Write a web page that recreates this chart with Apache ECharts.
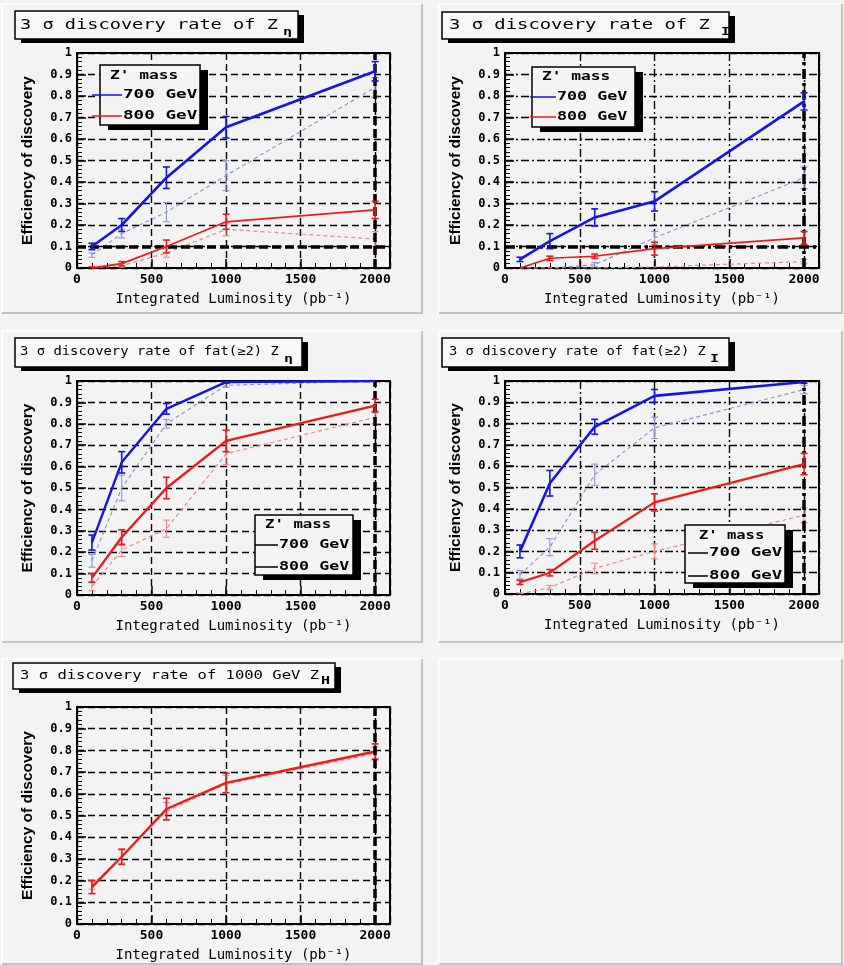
<!DOCTYPE html>
<html><head><meta charset="utf-8">
<script src="https://cdn.jsdelivr.net/npm/echarts@6/dist/echarts.min.js"></script>
<style>html,body{margin:0;padding:0;background:#f3f3f3}#c{width:844px;height:965px}</style>
</head><body><div id="c"></div><script>
// ---------- data ----------
const lumi = [100, 300, 600, 1000, 2000];
const xTickLabels = ['0', '500', '1000', '1500', '2000'];
const xTickValues = [0, 500, 1000, 1500, 2000];
const yTickLabels = ['0', '0.1', '0.2', '0.3', '0.4', '0.5', '0.6', '0.7', '0.8', '0.9', '1'];

// Panel 1: Z_eta
const zEta700 = [0.10, 0.20, 0.42, 0.655, 0.915];
const zEta700Err = [0.015, 0.03, 0.05, 0.05, 0.045];
const zEta700Alt = [0.06, 0.16, 0.26, 0.43, 0.84];
const zEta700AltErr = [0.01, 0.02, 0.045, 0.07, 0.045];
const zEta800 = [0.0, 0.02, 0.10, 0.215, 0.27];
const zEta800Err = [0.005, 0.01, 0.03, 0.035, 0.04];
const zEta800Alt = [0.0, 0.01, 0.07, 0.18, 0.135];
const zEta800AltErr = [0.0, 0.01, 0.02, 0.03, 0.035];

// Panel 2: Z_I
const zI700 = [0.04, 0.125, 0.235, 0.31, 0.775];
const zI700Err = [0.01, 0.035, 0.04, 0.045, 0.04];
const zI700Alt = [0.0, 0.0, 0.015, 0.14, 0.42];
const zI700AltErr = [0.0, 0.0, 0.01, 0.03, 0.05];
const zI800 = [0.0, 0.045, 0.055, 0.09, 0.14];
const zI800Err = [0.0, 0.01, 0.01, 0.03, 0.03];
const zI800Alt = [0.0, 0.0, 0.0, 0.005, 0.03];
const zI800AltErr = [0.0, 0.0, 0.0, 0.0, 0.01];

// Panel 3: fat(>=2) Z_eta
const fatEta700 = [0.245, 0.62, 0.87, 0.995, 1.0];
const fatEta700Err = [0.035, 0.05, 0.025, 0.005, 0.0];
const fatEta700Alt = [0.16, 0.5, 0.8, 0.98, 1.0];
const fatEta700AltErr = [0.03, 0.06, 0.02, 0.01, 0.0];
const fatEta800 = [0.08, 0.27, 0.5, 0.72, 0.885];
const fatEta800Err = [0.02, 0.035, 0.05, 0.05, 0.03];
const fatEta800Alt = [0.04, 0.21, 0.31, 0.66, 0.83];
const fatEta800AltErr = [0.02, 0.03, 0.04, 0.05, 0.03];

// Panel 4: fat(>=2) Z_I
const fatI700 = [0.2, 0.52, 0.785, 0.93, 0.995];
const fatI700Err = [0.03, 0.06, 0.035, 0.03, 0.005];
const fatI700Alt = [0.09, 0.22, 0.56, 0.78, 0.96];
const fatI700AltErr = [0.02, 0.04, 0.05, 0.05, 0.02];
const fatI800 = [0.055, 0.1, 0.25, 0.43, 0.61];
const fatI800Err = [0.01, 0.015, 0.04, 0.04, 0.05];
const fatI800Alt = [0.0, 0.03, 0.12, 0.2, 0.37];
const fatI800AltErr = [0.005, 0.01, 0.025, 0.035, 0.035];

// Panel 5: 1000 GeV Z_H
const zH1000 = [0.17, 0.31, 0.53, 0.65, 0.795];
const zH1000Err = [0.03, 0.035, 0.05, 0.045, 0.035];
const zH1000Alt = [0.18, 0.31, 0.52, 0.645, 0.785];
const zH1000AltErr = [0.02, 0.03, 0.04, 0.04, 0.03];

// ---------- styles / layout ----------
const BLUE = '#1414e6', RED = '#ee1a1a', BLUE_L = '#8c98cc', RED_L = '#ec8a8a';
const MONO = '"DejaVu Sans Mono", "Liberation Mono", monospace';
const DASH = [7, 4], DASHDOT = [8, 3, 2, 3];

const panels = [
  { grid: { left: 77, top: 53, width: 313, height: 215 }, gl: DASH, thr: true,
    curves: [
      { v: zEta700Alt, e: zEta700AltErr, c: BLUE_L, w: 1.2, t: [4, 3] },
      { v: zEta800Alt, e: zEta800AltErr, c: RED_L, w: 1.2, t: [4, 3] },
      { v: zEta800, e: zEta800Err, c: RED, w: 1.8, t: 'solid' },
      { v: zEta700, e: zEta700Err, c: BLUE, w: 2.6, t: 'solid' }] },
  { grid: { left: 505, top: 53, width: 314, height: 215 }, gl: DASHDOT, thr: true,
    curves: [
      { v: zI700Alt, e: zI700AltErr, c: BLUE_L, w: 1.2, t: [4, 3] },
      { v: zI800Alt, e: zI800AltErr, c: RED_L, w: 1.2, t: [4, 3] },
      { v: zI800, e: zI800Err, c: RED, w: 1.6, t: 'solid' },
      { v: zI700, e: zI700Err, c: BLUE, w: 2.6, t: 'solid' }] },
  { grid: { left: 77, top: 381, width: 313, height: 214 }, gl: DASH, thr: false,
    curves: [
      { v: fatEta700Alt, e: fatEta700AltErr, c: BLUE_L, w: 1.2, t: [4, 3] },
      { v: fatEta800Alt, e: fatEta800AltErr, c: RED_L, w: 1.2, t: [4, 3] },
      { v: fatEta800, e: fatEta800Err, c: RED, w: 2.4, t: 'solid' },
      { v: fatEta700, e: fatEta700Err, c: BLUE, w: 2.4, t: 'solid' }] },
  { grid: { left: 505, top: 381, width: 314, height: 213 }, gl: DASHDOT, thr: false,
    curves: [
      { v: fatI700Alt, e: fatI700AltErr, c: BLUE_L, w: 1.2, t: [4, 3] },
      { v: fatI800Alt, e: fatI800AltErr, c: RED_L, w: 1.2, t: [4, 3] },
      { v: fatI800, e: fatI800Err, c: RED, w: 2.2, t: 'solid' },
      { v: fatI700, e: fatI700Err, c: BLUE, w: 2.6, t: 'solid' }] },
  { grid: { left: 77, top: 707, width: 313, height: 217 }, gl: DASH, thr: false,
    curves: [
      { v: zH1000Alt, e: zH1000AltErr, c: RED_L, w: 1.2, t: [4, 3] },
      { v: zH1000, e: zH1000Err, c: RED, w: 2.4, t: 'solid' }] }
];

const pads = [
  [2, 4, 420, 309], [439, 4, 403, 309],
  [2, 331, 420, 311], [439, 331, 403, 311],
  [2, 659, 420, 305], [439, 659, 403, 305]
];

const titles = [
  { box: [15, 11, 283, 28], text: '3 σ discovery rate of Z', tx: 20, ty: 25, tw: 257, fs: 14, sub: 'η', sx: 283, sy: 32 },
  { box: [442, 12, 287, 27], text: '3 σ discovery rate of Z', tx: 449, ty: 25, tw: 260, fs: 14, sub: 'I', sx: 721, sy: 32 },
  { box: [15, 338, 287, 29], text: '3 σ discovery rate of fat(≥2) Z', tx: 20, ty: 352, tw: 258, fs: 12, sub: 'η', sx: 284, sy: 359 },
  { box: [442, 338, 287, 29], text: '3 σ discovery rate of fat(≥2) Z', tx: 449, ty: 352, tw: 256, fs: 12, sub: 'I', sx: 710, sy: 359 },
  { box: [13, 663, 322, 26], text: '3 σ discovery rate of 1000 GeV Z', tx: 20, ty: 676, tw: 298, fs: 12, sub: 'H', sx: 321, sy: 681 }
];

const legendHeader = "Z' mass";
const legendLabels = ['700 GeV', '800 GeV'];
const legends = [
  { box: [100, 65, 100, 60], hx: 110, hy: 76, hw: 68, lx: 123, lw: 74, ly: [95, 116], l1: 92, c: [BLUE, RED] },
  { box: [532, 67, 103, 60], hx: 542, hy: 77, hw: 68, lx: 557, lw: 70, ly: [97, 117], l1: 530, c: [BLUE, RED] },
  { box: [255, 515, 98, 60], hx: 265, hy: 525, hw: 66, lx: 279, lw: 70, ly: [545, 567], l1: 255, c: ['#000', '#000'] },
  { box: [685, 525, 100, 58], hx: 699, hy: 536, hw: 65, lx: 709, lw: 73, ly: [553, 576], l1: 688, c: ['#000', '#000'] }
];

// ---------- build ----------
function monoText(x, y, str, fs, width, weight) {
  return {
    type: 'text', x: x, y: y, z: 110,
    scaleX: width / (0.6 * fs * str.length),
    style: { text: str, fontSize: fs, fontFamily: MONO, fontWeight: weight || 'normal',
      fill: '#000', align: 'left', verticalAlign: 'middle' }
  };
}

function errRender(color, w) {
  return function (params, api) {
    const x = api.value(0), lo = api.value(1), hi = api.value(2);
    if (hi - lo < 1e-6) return null;
    const a = api.coord([x, lo]), b = api.coord([x, hi]);
    const cap = 3.5, st = { stroke: color, lineWidth: w };
    return { type: 'group', children: [
      { type: 'line', shape: { x1: a[0], y1: a[1], x2: b[0], y2: b[1] }, style: st },
      { type: 'line', shape: { x1: a[0] - cap, y1: a[1], x2: a[0] + cap, y2: a[1] }, style: st },
      { type: 'line', shape: { x1: b[0] - cap, y1: b[1], x2: b[0] + cap, y2: b[1] }, style: st }
    ] };
  };
}

const grids = [], xAxes = [], yAxes = [], series = [], graphics = [];

panels.forEach((p, i) => {
  grids.push(Object.assign({ show: true, borderColor: '#000', borderWidth: 2, backgroundColor: 'transparent' }, p.grid));
  xAxes.push({
    type: 'value', gridIndex: i, min: 0, max: 2100, interval: 500, position: 'bottom',
    axisLine: { show: true, onZero: false, lineStyle: { color: '#000', width: 2 } },
    axisTick: { show: true, inside: true, length: 9, lineStyle: { color: '#000', width: 1.5 } },
    splitLine: { show: true, lineStyle: { color: '#000', width: 1.4, type: p.gl } },
    axisLabel: { color: '#000', fontFamily: MONO, fontSize: 13, fontWeight: 'bold', margin: 5, showMaxLabel: false,
      formatter: v => { const k = xTickValues.indexOf(Math.round(v)); return k >= 0 ? xTickLabels[k] : ''; } },
    name: 'Integrated Luminosity (pb⁻¹)', nameLocation: 'middle', nameGap: 24,
    nameTextStyle: { color: '#000', fontFamily: MONO, fontSize: 14 }
  });
  yAxes.push({
    type: 'value', gridIndex: i, min: 0, max: 1, interval: 0.1,
    axisLine: { show: true, onZero: false, lineStyle: { color: '#000', width: 2 } },
    axisTick: { show: true, inside: true, length: 9, lineStyle: { color: '#000', width: 1.5 } },
    minorTick: { show: true, splitNumber: 5, length: 5, lineStyle: { color: '#000', width: 1 } },
    splitLine: { show: true, lineStyle: { color: '#000', width: 1.4, type: p.gl } },
    axisLabel: { color: '#000', fontFamily: MONO, fontSize: 12, fontWeight: 'bold', margin: 5,
      formatter: v => yTickLabels[Math.round(v * 10)] },
    name: 'Efficiency of discovery', nameLocation: 'middle', nameGap: 41,
    nameTextStyle: { color: '#000', fontFamily: '"Liberation Sans", Arial, sans-serif', fontSize: 15.5, fontWeight: 'bold' }
  });
});
// minor x ticks (every 100)
panels.forEach((p, i) => {
  xAxes.push({
    type: 'value', gridIndex: i, min: 0, max: 2100, interval: 100, position: 'bottom', offset: 0,
    axisLine: { show: false }, axisLabel: { show: false }, splitLine: { show: false },
    axisTick: { show: true, inside: true, length: 5, lineStyle: { color: '#000', width: 1 } }
  });
});

panels.forEach((p, i) => {
  p.curves.forEach((c, k) => {
    const mk = [{ xAxis: 2000 }];
    if (p.thr) mk.push({ yAxis: 0.1 });
    series.push({
      type: 'line', xAxisIndex: i, yAxisIndex: i, silent: true, animation: false,
      data: lumi.map((x, j) => [x, c.v[j]]), showSymbol: false, symbol: 'none', z: 3 + k,
      lineStyle: { color: c.c, width: c.w, type: c.t },
      markLine: k === 0 ? { silent: true, symbol: ['none', 'none'], label: { show: false }, animation: false,
        lineStyle: { color: '#000', width: 3.5, type: p.gl === DASH ? [9, 4] : [10, 4, 3, 4] }, data: mk } : undefined
    });
    series.push({
      type: 'custom', xAxisIndex: i, yAxisIndex: i, silent: true, animation: false, z: 3 + k,
      encode: { x: 0, y: [1, 2] }, clip: true,
      data: lumi.map((x, j) => [x, c.v[j] - c.e[j], c.v[j] + c.e[j]]),
      renderItem: errRender(c.c, c.t === 'solid' ? 1.6 : 1.1)
    });
  });
});

// pad bevel borders
pads.forEach(([x, y, w, h]) => {
  graphics.push({ type: 'polyline', z: 1, silent: true, shape: { points: [[x, y + h], [x, y], [x + w, y]] },
    style: { stroke: '#ffffff', lineWidth: 1.5, fill: null } });
  graphics.push({ type: 'polyline', z: 1, silent: true, shape: { points: [[x + w, y], [x + w, y + h], [x, y + h]] },
    style: { stroke: '#b4b4b4', lineWidth: 1.5, fill: null } });
});

// titles
titles.forEach(t => {
  const [x, y, w, h] = t.box;
  graphics.push({ type: 'rect', z: 100, shape: { x: x + 6, y: y + 4, width: w, height: h }, style: { fill: '#000' } });
  graphics.push({ type: 'rect', z: 101, shape: { x: x, y: y, width: w, height: h }, style: { fill: '#f7f7f7', stroke: '#000', lineWidth: 1.5 } });
  graphics.push(monoText(t.tx, t.ty, t.text, t.fs, t.tw, 'normal'));
  graphics.push(monoText(t.sx, t.sy, t.sub, 10, 9, 'bold'));
});

// legends
legends.forEach(l => {
  const [x, y, w, h] = l.box;
  graphics.push({ type: 'rect', z: 100, shape: { x: x + 8, y: y + 5, width: w, height: h }, style: { fill: '#000' } });
  graphics.push({ type: 'rect', z: 101, shape: { x: x, y: y, width: w, height: h }, style: { fill: '#f4f4f4', stroke: '#000', lineWidth: 1.5 } });
  graphics.push(monoText(l.hx, l.hy, legendHeader, 12, l.hw, 'bold'));
  legendLabels.forEach((lab, k) => {
    graphics.push(monoText(l.lx, l.ly[k], lab, 12, l.lw, 'bold'));
    graphics.push({ type: 'line', z: 102, shape: { x1: l.l1, y1: l.ly[k], x2: l.lx - 1, y2: l.ly[k] },
      style: { stroke: l.c[k], lineWidth: 1.5 } });
  });
});

const chart = echarts.init(document.getElementById('c'), null, { renderer: 'canvas' });
chart.setOption({
  backgroundColor: '#f3f3f3',
  animation: false,
  grid: grids, xAxis: xAxes, yAxis: yAxes, series: series,
  graphic: { elements: graphics }
});
</script></body></html>
